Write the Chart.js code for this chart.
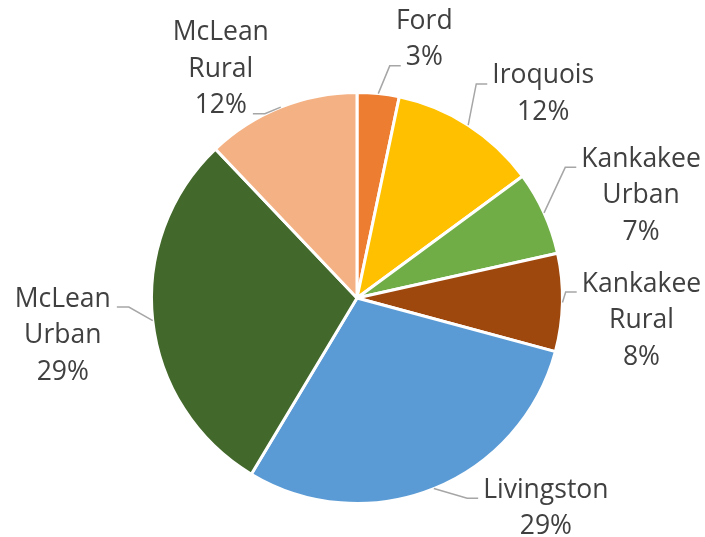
<!DOCTYPE html>
<html>
<head>
    <title>County Share</title>
    <script src="https://cdn.jsdelivr.net/npm/chart.js@4.4.0/dist/chart.umd.min.js"></script>
    <style>
        html, body { margin: 0; padding: 0; background: #fff; }
        #wrap { width: 705px; height: 537px; }
    </style>
</head>
<body>
    <div id="wrap"><canvas id="chart" width="705" height="537"></canvas></div>
    <script>
        const categories = ['Ford', 'Iroquois', 'Kankakee Urban', 'Kankakee Rural', 'Livingston', 'McLean Urban', 'McLean Rural'];
        const shares = [3.3, 11.6, 6.6, 7.7, 29.4, 29.3, 12.1];
        const colors = ['#ED7D31', '#FFC000', '#70AD47', '#9E480E', '#5B9BD5', '#43682B', '#F4B183'];

        // label block centre, relative to the slice's outer midpoint
        const labelOffsets = [[46, -54], [75, -31], [97, -17], [79, 18], [112, 20], [-90, 15], [-60, -38]];

        const FONT = '26.5px "Open Sans"';
        const LINE_H = 36.5;

        const outsideLabels = {
            id: 'outsideLabels',
            afterDatasetsDraw(chart) {
                const ctx = chart.ctx;
                const meta = chart.getDatasetMeta(0);
                const data = chart.data.datasets[0].data;
                const total = data.reduce((a, b) => a + b, 0);
                ctx.save();
                ctx.font = FONT;
                ctx.textAlign = 'center';
                ctx.textBaseline = 'middle';
                meta.data.forEach((arc, i) => {
                    const mid = (arc.startAngle + arc.endAngle) / 2;
                    const px = arc.x + Math.cos(mid) * arc.outerRadius;
                    const py = arc.y + Math.sin(mid) * arc.outerRadius;
                    const lines = chart.data.labels[i].split(' ');
                    lines.push(Math.round(data[i] / total * 100) + '%');
                    const cx = px + labelOffsets[i][0];
                    const cy = py + labelOffsets[i][1];
                    const n = lines.length;
                    const lineY = k => cy + (k - (n - 1) / 2) * LINE_H;

                    // leader line
                    const deg = ((mid + Math.PI / 2) * 180 / Math.PI + 360) % 360;
                    const nearTop = deg < 30 || deg > 330;
                    const k = nearTop ? n - 1 : 0;
                    const w = ctx.measureText(lines[k]).width;
                    const right = cx > px;
                    const ex = right ? cx - w / 2 - 5 : cx + w / 2 + 6;
                    const ey = lineY(k) + 8;
                    const bx = right ? ex - 11 : ex + 12;
                    ctx.strokeStyle = '#A6A6A6';
                    ctx.lineWidth = 1.5;
                    ctx.beginPath();
                    ctx.moveTo(px, py);
                    ctx.lineTo(bx, ey);
                    ctx.lineTo(ex, ey);
                    ctx.stroke();

                    ctx.fillStyle = '#404040';
                    lines.forEach((t, j) => ctx.fillText(t, cx, lineY(j)));
                });
                ctx.restore();
            }
        };

        new Chart(document.getElementById('chart'), {
            type: 'pie',
            data: {
                labels: categories,
                datasets: [{
                    data: shares,
                    backgroundColor: colors,
                    borderColor: '#ffffff',
                    borderWidth: 3
                }]
            },
            options: {
                responsive: false,
                animation: false,
                layout: { padding: { top: 91, bottom: 32, left: 150, right: 141 } },
                plugins: {
                    legend: { display: false },
                    tooltip: { enabled: false }
                }
            },
            plugins: [outsideLabels]
        });
    </script>
</body>
</html>
